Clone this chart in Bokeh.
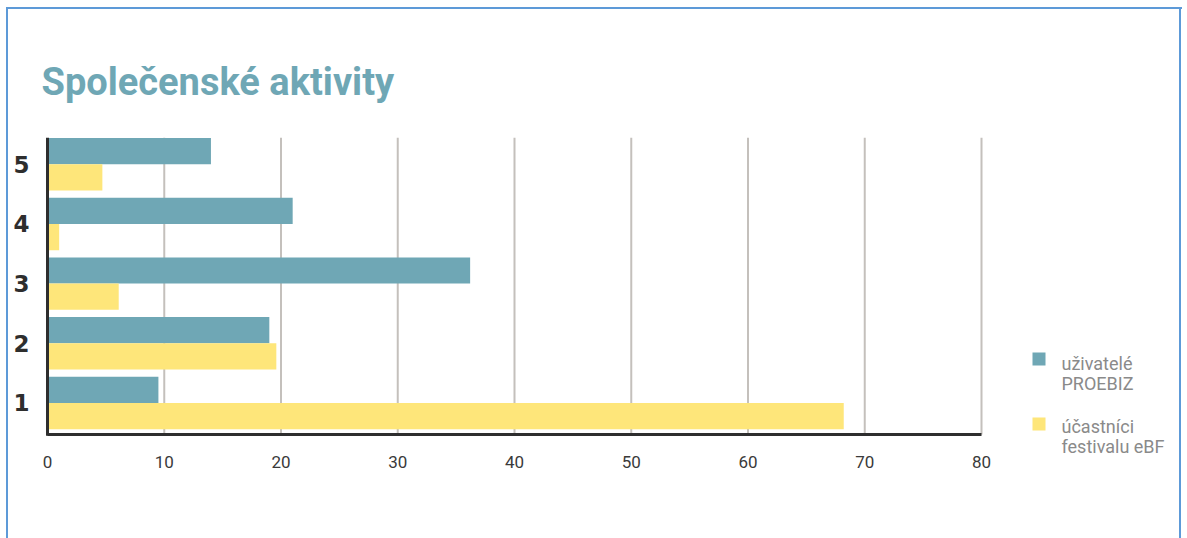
from bokeh.plotting import figure
from bokeh.models import Range1d, FixedTicker, ColumnDataSource
from bokeh.core.properties import value
from bokeh.transform import dodge
from bokeh.embed import file_html
from bokeh.resources import INLINE

# ---- data ----
categories = [1, 2, 3, 4, 5]
proebiz = [9.5, 19, 36.2, 21, 14]        # uživatelé PROEBIZ
ebf = [68.2, 19.6, 6.1, 1, 4.7]          # účastníci festivalu eBF
x_ticks = [0, 10, 20, 30, 40, 50, 60, 70, 80]
title_text = "Společenské aktivity"
legend_labels = [["uživatelé", "PROEBIZ"], ["účastníci", "festivalu eBF"]]

BLUE = "#6fa7b5"
YELLOW = "#fee67a"
FONT = "Roboto"
BC = "#5d9ad8"
AXC = "#2e2e2e"

W, H = 1187, 538
X0PX = 47                 # pixel of x = 0
FL, FT = 42, 137          # frame left / top in px
FR, FB = 1187, 480        # frame extends right/down so the legend sits inside it
PXU_X = 11.675            # px per x unit
PXU_Y = 59.64             # px per y unit
YTOP = 5.45
XMAX_AX, YMIN_AX = 80, 0.47

def px_x(px):
    return (px - X0PX) / PXU_X

def px_y(py):
    return YTOP - (py - FT) / PXU_Y

p = figure(width=W, height=H, output_backend="svg", toolbar_location=None,
           x_range=Range1d(px_x(FL), px_x(FR)), y_range=Range1d(px_y(FB), YTOP),
           min_border_left=FL, min_border_right=W - FR,
           min_border_top=FT, min_border_bottom=H - FB,
           title=title_text)
p.outline_line_color = None
p.background_fill_alpha = 0
p.border_fill_alpha = 0
grad = "linear-gradient(%s,%s)" % (BC, BC)
p.styles = {
    "background": ", ".join([
        grad + " 6px 7px / 2px 540px no-repeat",
        grad + " 6px 7px / 1176px 2px no-repeat",
        grad + " 1179px 7px / 2px 540px no-repeat",
        "white",
    ])
}

# title
p.title.text_font = FONT
p.title.text_font_size = "38px"
p.title.text_font_style = "bold"
p.title.text_color = BLUE
p.title.align = "left"
p.title.offset = -1
p.title.standoff = 68

# vertical grid lines (only over the plotting area 0..80)
p.segment(x0=x_ticks[1:], x1=x_ticks[1:], y0=YMIN_AX, y1=YTOP,
          line_color="#c4c0bc", line_width=2, level="underlay")

src = ColumnDataSource(dict(cat=categories, proebiz=proebiz, ebf=ebf))
p.hbar(y=dodge("cat", 0.22, range=p.y_range), right="proebiz", left=0, height=0.44,
       source=src, fill_color=BLUE, line_color=None)
p.hbar(y=dodge("cat", -0.22, range=p.y_range), right="ebf", left=0, height=0.44,
       source=src, fill_color=YELLOW, line_color=None)

# vertical axis line at x = 0
p.segment(x0=[0], x1=[0], y0=[YMIN_AX - 0.02], y1=[YTOP], line_color=AXC, line_width=3)

# axes
p.xaxis.ticker = FixedTicker(ticks=x_ticks)
p.yaxis.ticker = FixedTicker(ticks=categories)
p.xaxis.fixed_location = YMIN_AX
p.xaxis.bounds = (0, XMAX_AX)
for ax in (p.xaxis[0], p.yaxis[0]):
    ax.major_tick_line_color = None
    ax.minor_tick_line_color = None
    ax.axis_line_color = AXC
    ax.axis_line_width = 3
p.yaxis.axis_line_color = None
ax = p.xaxis[0]
ax.major_label_text_font = FONT
ax.major_label_text_font_size = "17px"
ax.major_label_text_color = "#3a3a3a"
ax.major_label_standoff = 15
ay = p.yaxis[0]
ay.major_label_text_font = "DejaVu Sans"
ay.major_label_text_font_size = "23px"
ay.major_label_text_font_style = "bold"
ay.major_label_text_color = AXC
ay.major_label_standoff = 7

p.xgrid.grid_line_color = None
p.ygrid.grid_line_color = None

# legend (drawn inside the extended frame)
sq_rows = [(352, 365), (417, 430)]
text_rows = [(363, 383), (426, 446)]
colors = [BLUE, YELLOW]
p.quad(left=[px_x(1032)] * 2, right=[px_x(1045)] * 2,
       top=[px_y(t) for t, b in sq_rows], bottom=[px_y(b) for t, b in sq_rows],
       fill_color=colors, line_color=None)
tx, ty, tt = [], [], []
for (b1, b2), labs in zip(text_rows, legend_labels):
    for bl, txt in zip((b1, b2), labs):
        tx.append(px_x(1061)); ty.append(px_y(bl)); tt.append(txt)
p.text(x=tx, y=ty, text=tt, text_font=value(FONT), text_font_size="18px",
       text_color="#8a8a8a", text_baseline="alphabetic", text_align="left")

open("out.html", "w").write(file_html(p, INLINE))
